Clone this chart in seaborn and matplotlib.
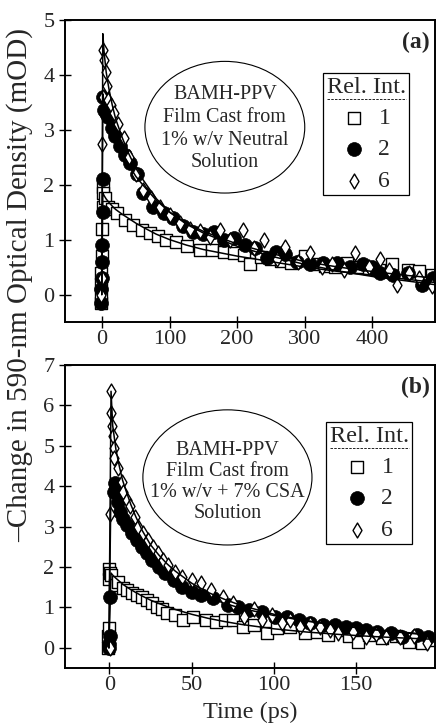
import numpy as np
import pandas as pd
import matplotlib
matplotlib.use("Agg")
import matplotlib.pyplot as plt
import seaborn as sns
from matplotlib.patches import Ellipse
from matplotlib.lines import Line2D

sns.set_style("ticks")
plt.rcParams['font.family'] = ['Liberation Serif', 'DejaVu Serif']

# ---------------- Panel (a) data ----------------
a_sq_t = [-2, -2, -1, -1, 0, 0, 1, 1, 2, 4, 8, 14, 22, 34, 46, 59, 71, 83, 95, 110, 126, 145, 163, 180,
          195, 210, 219, 235, 250, 265, 280, 300, 315, 330, 345, 363, 380, 395, 410, 430, 453, 470, 488]
a_sq_v = [-0.15, 0.0, 0.2, 0.4, 0.7, 1.2, 1.6, 1.95, 1.85, 1.75, 1.6, 1.55, 1.49, 1.35, 1.27, 1.18, 1.12,
          1.06, 1.0, 0.95, 0.88, 0.82, 0.82, 0.78, 0.76, 0.72, 0.55, 0.68, 0.65, 0.62, 0.58, 0.7, 0.55,
          0.52, 0.5, 0.58, 0.5, 0.48, 0.45, 0.55, 0.45, 0.42, 0.35]

a_ci_t = [-1, -1, 0, 0, 0.5, 1, 1, 1.5, 3, 5, 9, 14, 19, 27, 34, 41, 52, 61, 76, 91, 105, 120, 135, 150,
          165, 180, 195, 211, 227, 244, 258, 271, 289, 308, 327, 348, 367, 387, 400, 412, 431, 453, 474, 490]
a_ci_v = [-0.15, 0.1, 0.3, 0.6, 0.9, 1.5, 2.1, 3.6, 3.36, 3.3, 3.24, 3.03, 2.88, 2.7, 2.55, 2.4, 2.2,
          1.85, 1.6, 1.49, 1.4, 1.24, 1.13, 1.1, 1.13, 1.0, 1.03, 0.9, 0.85, 0.67, 0.78, 0.73, 0.6, 0.55,
          0.58, 0.58, 0.51, 0.55, 0.5, 0.4, 0.36, 0.4, 0.18, 0.31]

a_di_t = [-1, 0, 0, 1, 2, 3, 5, 7, 9, 13, 17, 24, 32, 40, 50, 61, 72, 85, 100, 115, 130, 145, 160, 175,
          190, 209, 225, 239, 259, 271, 290, 308, 325, 340, 358, 375, 395, 412, 425, 437, 455, 470, 489]
a_di_v = [0.0, 0.3, 2.75, 3.6, 4.45, 4.27, 4.05, 3.8, 3.55, 3.45, 3.3, 3.1, 2.85, 2.5, 2.2, 1.9, 1.75,
          1.6, 1.45, 1.3, 1.2, 1.15, 1.05, 1.18, 1.0, 1.18, 0.85, 1.0, 0.64, 0.87, 0.6, 0.76, 0.5, 0.55,
          0.45, 0.76, 0.5, 0.64, 0.45, 0.18, 0.4, 0.3, 0.15]

a_fit_t = [-0.5, 1, 3, 6, 10, 15, 20, 30, 40, 50, 60, 80, 100, 125, 150, 200, 250, 300, 350, 400, 450, 493]
a_fit_6 = [0.0, 4.75, 4.4, 4.05, 3.75, 3.45, 3.2, 2.85, 2.55, 2.3, 2.1, 1.75, 1.5, 1.28, 1.12, 0.88,
           0.7, 0.55, 0.43, 0.33, 0.25, 0.18]
a_fit_2 = [0.0, 3.65, 3.5, 3.3, 3.12, 2.95, 2.8, 2.55, 2.35, 2.15, 2.0, 1.72, 1.5, 1.3, 1.15, 0.92,
           0.75, 0.6, 0.5, 0.42, 0.35, 0.3]
a_fit_1 = [0.0, 1.85, 1.8, 1.74, 1.68, 1.61, 1.55, 1.46, 1.38, 1.3, 1.23, 1.1, 1.0, 0.9, 0.82, 0.7,
           0.6, 0.5, 0.42, 0.35, 0.28, 0.22]

# ---------------- Panel (b) data ----------------
b_sq_t = [-1, -1, -0.5, 0, 0, 0.5, 1, 3.6, 5.5, 8, 11, 14, 17, 20, 23, 26, 29, 32, 35, 40, 45, 51, 59,
          65, 70, 75, 81, 88, 96, 102, 110, 119, 126, 133, 140, 146, 151, 158, 166, 174, 182, 190, 197]
b_sq_v = [0.0, 0.3, 0.5, 1.7, 1.95, 1.85, 1.8, 1.56, 1.63, 1.48, 1.44, 1.36, 1.31, 1.25, 1.19, 1.1,
          1.02, 0.95, 0.87, 0.8, 0.69, 0.77, 0.69, 0.64, 0.7, 0.69, 0.52, 0.57, 0.37, 0.5, 0.52, 0.37,
          0.4, 0.32, 0.45, 0.3, 0.15, 0.32, 0.25, 0.28, 0.15, 0.12, 0.2]

b_ci_t = [-0.5, 0, 0.5, 0.6, 2.5, 3.6, 5, 6.7, 8.5, 11, 14, 17, 20, 23, 26, 30, 34, 39, 44, 50, 56, 63,
          72, 78, 85, 93, 101, 108, 115, 122, 130, 137, 144, 150, 156, 163, 171, 178, 187, 194]
b_ci_v = [0.0, 0.1, 0.3, 1.25, 3.85, 4.08, 3.6, 3.37, 3.2, 3.05, 2.84, 2.67, 2.5, 2.35, 2.18, 2.0, 1.85,
          1.68, 1.51, 1.39, 1.31, 1.24, 1.06, 1.01, 0.94, 0.89, 0.77, 0.77, 0.69, 0.62, 0.57, 0.57, 0.52,
          0.5, 0.45, 0.4, 0.37, 0.27, 0.32, 0.27]

b_di_t = [0.5, 0.6, 1, 1, 1.5, 2, 2.5, 3, 5.5, 7.8, 8.5, 11, 12.7, 15.7, 17.6, 20.6, 23.6, 26.7, 29.7,
          32.7, 35.8, 40, 44, 50, 56, 62, 69, 75, 82, 88, 93, 99, 105, 110, 116, 122, 128, 134, 139, 148,
          156, 162, 168, 177, 185, 193]
b_di_v = [0.0, 3.3, 6.35, 5.8, 5.5, 5.25, 4.95, 4.7, 4.45, 4.1, 3.86, 3.66, 3.5, 3.25, 3.0, 2.85, 2.67,
          2.5, 2.35, 2.18, 2.05, 1.88, 1.75, 1.68, 1.6, 1.44, 1.26, 1.1, 0.77, 0.95, 0.69, 0.8, 0.62, 0.7,
          0.52, 0.6, 0.52, 0.45, 0.37, 0.4, 0.27, 0.35, 0.27, 0.27, 0.3, 0.12]

b_fit_t = [-0.3, 1, 2, 4, 6, 8, 10, 13, 16, 20, 25, 30, 35, 40, 50, 60, 70, 80, 100, 120, 140, 160, 180, 198]
b_fit_6 = [0.0, 6.35, 5.5, 4.9, 4.5, 4.15, 3.9, 3.55, 3.25, 2.9, 2.55, 2.3, 2.08, 1.9, 1.6, 1.37, 1.2,
           1.05, 0.83, 0.67, 0.55, 0.45, 0.37, 0.3]
b_fit_2 = [0.0, 4.1, 4.0, 3.75, 3.5, 3.3, 3.12, 2.9, 2.7, 2.48, 2.25, 2.03, 1.85, 1.7, 1.45, 1.25, 1.1,
           0.98, 0.8, 0.66, 0.55, 0.46, 0.38, 0.32]
b_fit_1 = [0.0, 1.85, 1.8, 1.72, 1.65, 1.58, 1.52, 1.44, 1.37, 1.28, 1.18, 1.1, 1.02, 0.95, 0.83, 0.73,
           0.65, 0.58, 0.47, 0.39, 0.33, 0.28, 0.24, 0.21]

a_xticks = [0, 100, 200, 300, 400]
a_yticks = [0, 1, 2, 3, 4, 5]
b_xticks = [0, 50, 100, 150]
b_yticks = [0, 1, 2, 3, 4, 5, 6, 7]

legend_title = "Rel. Int."
legend_labels = ["1", "2", "6"]
a_ellipse_text = ["BAMH-PPV", "Film Cast from", "1% w/v Neutral", "Solution"]
b_ellipse_text = ["BAMH-PPV", "Film Cast from", "1% w/v + 7% CSA", "Solution"]

W, H = 437, 723
fig = plt.figure(figsize=(W / 100, H / 100), dpi=100)


def px_axes(l, t, r, b):
    return fig.add_axes([l / W, 1 - b / H, (r - l) / W, (b - t) / H])


axA = px_axes(65, 20, 435, 322)
axB = px_axes(65, 365, 435, 668)

FS = 16


def draw_panel(ax, sq, ci, di, fits, xlim, ylim, xticks, yticks, etext, ell, tdy, toff,
               leg_anchor, tag):
    sns.scatterplot(x=sq[0], y=sq[1], marker='s', s=72, color='white', edgecolor='black',
                    linewidth=1.0, ax=ax, label=legend_labels[0], zorder=2)
    sns.scatterplot(x=ci[0], y=ci[1], marker='o', s=100, color='black', edgecolor='black',
                    linewidth=0.5, ax=ax, label=legend_labels[1], zorder=2)
    sns.scatterplot(x=di[0], y=di[1], marker='d', s=58, color='white', edgecolor='black',
                    linewidth=1.0, ax=ax, label=legend_labels[2], zorder=2)
    ft = fits[0]
    for fv in fits[1:]:
        sns.lineplot(x=ft, y=fv, sort=False, estimator=None, color='black', linewidth=1.1,
                     ax=ax, zorder=3, legend=False)
    ax.set_xlim(*xlim)
    ax.set_ylim(*ylim)
    ax.set_xticks(xticks)
    ax.set_yticks(yticks)
    ax.tick_params(direction='inout', length=9, width=1.0, labelsize=FS, color='black')
    ax.tick_params(axis='x', pad=1)
    ax.tick_params(axis='y', pad=3)
    for s in ax.spines.values():
        s.set_linewidth(1.4)
        s.set_color('black')
    ax.set_xlabel("")
    ax.set_ylabel("")
    cx, cy, w, h = ell
    ax.add_patch(Ellipse((cx, cy), w, h, transform=ax.transAxes, facecolor='none',
                         edgecolor='black', linewidth=0.8, zorder=4))
    for i, line in enumerate(etext):
        ax.text(cx, cy + toff + (1.5 - i) * tdy, line, transform=ax.transAxes, ha='center',
                va='center', fontsize=14.5, zorder=5)
    ax.text(0.985, 0.925, tag, transform=ax.transAxes, ha='right', va='center',
            fontsize=17, fontweight='bold')
    leg = ax.legend(title=legend_title, loc='upper left', bbox_to_anchor=leg_anchor,
                    bbox_transform=ax.transAxes, frameon=True, fancybox=False, framealpha=1,
                    edgecolor='black', fontsize=17, title_fontsize=17.5, handlelength=1.0,
                    handletextpad=0.55, labelspacing=0.42, borderpad=0.15, borderaxespad=0)
    leg.get_frame().set_linewidth(0.9)
    leg.set_zorder(6)
    return leg


legA = draw_panel(axA, (a_sq_t, a_sq_v), (a_ci_t, a_ci_v), (a_di_t, a_di_v),
                  (a_fit_t, a_fit_6, a_fit_2, a_fit_1), (-55, 493), (-0.5, 5),
                  a_xticks, a_yticks, a_ellipse_text, (0.432, 0.645, 0.432, 0.436), 0.075, -0.005,
                  ((323 - 65) / 370, 1 - (73 - 20) / 302), "(a)")
legB = draw_panel(axB, (b_sq_t, b_sq_v), (b_ci_t, b_ci_v), (b_di_t, b_di_v),
                  (b_fit_t, b_fit_6, b_fit_2, b_fit_1), (-27, 198), (-0.5, 7),
                  b_xticks, b_yticks, b_ellipse_text, (0.439, 0.629, 0.457, 0.446), 0.070, -0.015,
                  ((326 - 65) / 370, 1 - (422 - 365) / 303), "(b)")

fig.text(20 / W, 1 - 285 / H, "\u2013Change in 590-nm Optical Density (mOD)", rotation=90,
         ha='center', va='center', fontsize=21)
fig.text(250 / W, 1 - 712 / H, "Time (ps)", ha='center', va='center', fontsize=17.5)

# dashed underline beneath legend titles
fig.canvas.draw()
for leg in (legA, legB):
    tb = leg.get_title().get_window_extent()
    y = tb.y0 - 1
    fig.add_artist(Line2D([tb.x0 / W, tb.x1 / W], [y / H, y / H], transform=fig.transFigure,
                          color='black', linewidth=0.6, linestyle=(0, (3, 1.5)), zorder=10))

fig.savefig("out.png", dpi=100)
